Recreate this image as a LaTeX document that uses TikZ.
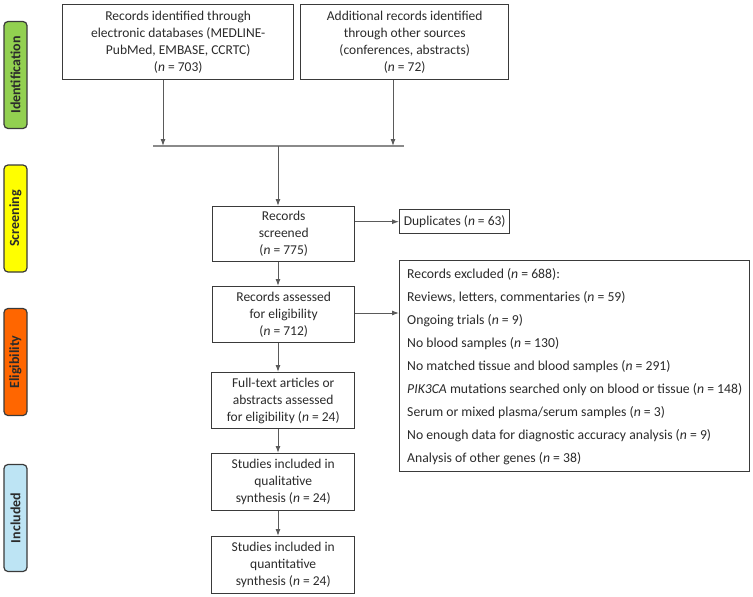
\documentclass[tikz,border=0pt]{standalone}
\usepackage{fontspec}
\setmainfont{Carlito}
\usetikzlibrary{arrows.meta}
\definecolor{txt}{HTML}{2B2B2B}
\definecolor{bord}{HTML}{3A3A3A}
\definecolor{arr}{HTML}{5A5A5A}
\definecolor{mline}{HTML}{8A8A8A}
\definecolor{cgreen}{HTML}{92D050}
\definecolor{cyellow}{HTML}{FFFF00}
\definecolor{corange}{HTML}{FF6600}
\definecolor{cblue}{HTML}{BDE4F4}
\tikzset{
  flowbox/.style={draw=bord, line width=1.4pt, fill=white, anchor=north west, inner sep=0pt,
    align=center, text=txt, font=\fontsize{13.5}{17}\selectfont},
  listbox/.style={draw=bord, line width=1.4pt, fill=white, anchor=north west, inner xsep=4pt, inner ysep=0pt,
    align=left, text=txt, font=\fontsize{13.7}{23}\selectfont},
  phase/.style={draw=bord, line width=1.2pt, rounded corners=4pt, rotate=90, minimum width=107pt,
    minimum height=23pt, inner sep=0pt, text=txt, font=\fontsize{14}{16}\selectfont\bfseries},
  conn/.style={draw=arr, line width=1pt, -{Latex[length=7pt,width=5pt]}},
}
\begin{document}
\begin{tikzpicture}[x=1pt,y=-1pt]
\useasboundingbox (0,0) rectangle (753,597);
% phase labels
\node[phase, fill=cgreen] (pid) at (15.5,75) {Identification};
\node[phase, fill=cyellow] (psc) at (15.5,218.5) {Screening};
\node[phase, fill=corange] (pel) at (15.5,362) {Eligibility};
\node[phase, fill=cblue] (pin) at (15.5,518) {Included};
% boxes
\node[flowbox, minimum width=231pt, minimum height=75pt] (db) at (62,4)
  {Records identified through\\electronic databases (MEDLINE-\\PubMed, EMBASE, CCRTC)\\(\textit{n} = 703)};
\node[flowbox, minimum width=208pt, minimum height=75pt] (other) at (300,4)
  {Additional records identified\\through other sources\\(conferences, abstracts)\\(\textit{n} = 72)};
\node[flowbox, minimum width=142pt, minimum height=55pt] (scr) at (212,206)
  {Records\\screened\\(\textit{n} = 775)};
\node[flowbox, minimum width=110pt, minimum height=24pt, font=\fontsize{13.5}{16}\selectfont] (dup) at (399,209)
  {Duplicates (\textit{n} = 63)};
\node[flowbox, minimum width=142pt, minimum height=56pt] (ass) at (212,286)
  {Records assessed\\for  eligibility\\(\textit{n} = 712)};
\node[listbox, minimum width=350pt, minimum height=211pt] (exc) at (399,260)
  {Records excluded (\textit{n} = 688):\\
   Reviews, letters, commentaries  (\textit{n} = 59)\\
   Ongoing trials (\textit{n} = 9)\\
   No blood samples (\textit{n} = 130)\\
   No matched tissue and blood samples (\textit{n} = 291)\\
   \textit{PIK3CA} mutations searched only on blood or tissue (\textit{n} = 148)\\
   Serum or mixed plasma/serum samples (\textit{n} = 3)\\
   No enough data for diagnostic accuracy analysis (\textit{n} = 9)\\
   Analysis of other genes (\textit{n} = 38)};
\node[flowbox, minimum width=143pt, minimum height=56pt] (full) at (211,372)
  {Full-text articles or\\abstracts assessed\\for eligibility (\textit{n} = 24)};
\node[flowbox, minimum width=143pt, minimum height=57pt] (qual) at (211,453)
  {Studies included in\\qualitative\\synthesis  (\textit{n} = 24)};
\node[flowbox, minimum width=143pt, minimum height=57pt] (quant) at (211,536)
  {Studies included in\\quantitative\\synthesis (\textit{n} = 24)};
% merge line
\coordinate (ml) at (153,146);
\coordinate (mr) at (404,146);
\coordinate (m1) at (163,146);
\coordinate (m2) at (393,146);
\coordinate (mc) at (278,146);
\draw[mline, line width=1.2pt] (ml) -- (mr);
\draw[conn] (m1 |- db.south) -- (m1);
\draw[conn] (m2 |- other.south) -- (m2);
\draw[conn] (mc) -- (mc |- scr.north);
\draw[conn] (scr.east |- dup.west) -- (dup.west);
\draw[conn] (mc |- scr.south) -- (mc |- ass.north);
\draw[conn] (ass.east |- 0,313) -- (exc.west |- 0,313);
\draw[conn] (mc |- ass.south) -- (mc |- full.north);
\draw[conn] (mc |- full.south) -- (mc |- qual.north);
\draw[conn] (mc |- qual.south) -- (mc |- quant.north);
\end{tikzpicture}
\end{document}
